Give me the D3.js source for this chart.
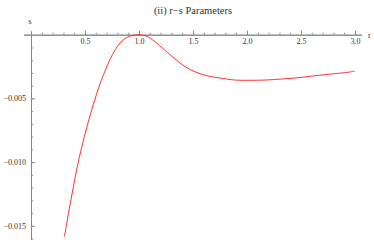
<!DOCTYPE html>
<html>
<head>
<meta charset="utf-8">
<script src="https://cdn.jsdelivr.net/npm/d3@7"></script>
<style>
  body { margin: 0; background: #fff; }
  svg { display: block; font-family: "Liberation Serif", "DejaVu Serif", serif; }
  .axis text { font-size: 8px; fill: #333; font-family: "Liberation Serif", serif; }
  .axis path, .axis line { stroke: #888; }
</style>
</head>
<body>
<svg width="374" height="240"></svg>
<script>
// values
var rVals = [0.310, 0.333, 0.361, 0.392, 0.426, 0.469, 0.516, 0.577, 0.639, 0.685, 0.731, 0.778, 0.824, 0.870,
             0.917, 0.963, 1.0, 1.056, 1.102, 1.148, 1.194, 1.287, 1.380, 1.472, 1.565, 1.657, 1.750, 1.889,
             2.009, 2.167, 2.321, 2.472, 2.630, 2.784, 2.935, 3.0];
var sVals = [-0.01584, -0.01470, -0.01336, -0.01195, -0.01046, -0.00885, -0.00728, -0.00548, -0.00387, -0.00285, -0.00195, -0.00120, -0.00065, -0.00030,
             -0.00010, -0.00002, 0, -0.00008, -0.00026, -0.00055, -0.00089, -0.00157, -0.00222, -0.00273, -0.00306, -0.00327, -0.00340, -0.00356,
             -0.00358, -0.00356, -0.00348, -0.00338, -0.00322, -0.00308, -0.00295, -0.00285];
var xTicks = [0.5, 1.0, 1.5, 2.0, 2.5, 3.0];
var yTicks = [-0.005, -0.010, -0.015];

var svg = d3.select("svg");

var x = d3.scaleLinear()
    .domain([-0.07, 3.06])
    .range([31 - 0.07 * 108, 31 + 3.06 * 108]);

var y = d3.scaleLinear()
    .domain([0.0003, -0.0161])
    .range([34.7 - 0.0003 * 12740, 34.7 + 0.0161 * 12740]);

var data = rVals.map(function(r, i) { return {r: r, s: sVals[i]}; });

// minor ticks
svg.append("g")
    .attr("class", "axis")
    .attr("transform", "translate(0," + y(0) + ")")
    .call(d3.axisBottom(x).tickValues(d3.range(1, 31).map(function(d) { return d / 10; }))
      .tickSize(-2).tickSizeOuter(0).tickFormat(""));

svg.append("g")
    .attr("class", "axis")
    .attr("transform", "translate(" + x(0) + ",0)")
    .call(d3.axisLeft(y).tickValues(d3.range(1, 17).map(function(d) { return -d / 1000; }))
      .tickSize(-2).tickSizeOuter(0).tickFormat(""));

// major ticks with labels
svg.append("g")
    .attr("class", "axis")
    .attr("transform", "translate(0," + y(0) + ")")
    .call(d3.axisBottom(x).tickValues(xTicks).tickSize(-4).tickSizeOuter(0)
      .tickPadding(4).tickFormat(d3.format(".1f")));

svg.append("g")
    .attr("class", "axis")
    .attr("transform", "translate(" + x(0) + ",0)")
    .call(d3.axisLeft(y).tickValues(yTicks).tickSize(-4).tickSizeOuter(0)
      .tickPadding(5).tickFormat(d3.format(".3f")));

var line = d3.line()
    .x(function(d) { return x(d.r); })
    .y(function(d) { return y(d.s); })
    .curve(d3.curveCatmullRom);

svg.append("path")
    .datum(data)
    .attr("fill", "none")
    .attr("stroke", "#ff3333")
    .attr("stroke-width", 1)
    .attr("d", line);

svg.append("text")
    .attr("x", 193).attr("y", 14)
    .attr("text-anchor", "middle")
    .attr("font-size", 10.5)
    .attr("fill", "#333")
    .text("(ii) r\u2212s Parameters");

svg.append("text")
    .attr("x", 30).attr("y", 24)
    .attr("text-anchor", "middle")
    .attr("font-size", 8.5)
    .attr("fill", "#333")
    .text("s");

svg.append("text")
    .attr("x", 368).attr("y", 38)
    .attr("font-size", 8.5)
    .attr("fill", "#333")
    .text("r");
</script>
</body>
</html>
